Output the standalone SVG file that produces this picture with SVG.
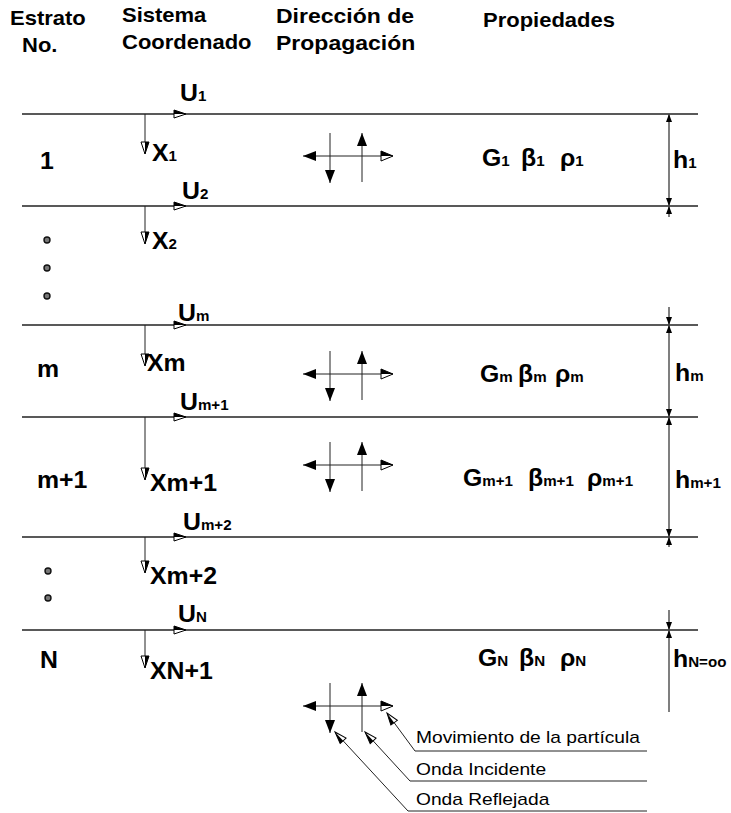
<svg xmlns="http://www.w3.org/2000/svg" xmlns:xlink="http://www.w3.org/1999/xlink" width="731" height="813" viewBox="0 0 731 813">
<style>
text{fill:#000;font-family:"Liberation Sans",Arial,sans-serif}
.h{font-weight:bold;font-size:20px}
.l{font-weight:bold;font-size:23px}
.s{font-size:14px}
.lg{font-size:16px}
.ln{stroke:#222;stroke-width:1.3;fill:none}
.dm{stroke:#555;stroke-width:1.5;fill:none}
.th{stroke:#222;stroke-width:1;fill:none}
.dot{fill:#777;stroke:#111;stroke-width:1.4}
</style>
<defs>
<g id="ahO"><polygon points="-12,-4 0,0 -12,4" fill="#fff" stroke="#000" stroke-width="1"/><polygon points="-12,-4 0,0 -12,0" fill="#000"/></g>
<g id="ahF"><polygon points="-13,-5 0,0 -13,5" fill="#000"/></g>
<g id="ahC"><polygon points="-12,-5 0,0 -12,5" fill="#fff" stroke="#000" stroke-width="1"/><polygon points="-12,-5 0,0 -12,0" fill="#000"/></g>
<g id="ahD"><polygon points="-8,-3 0,0 -8,3" fill="#000"/></g>
<g id="ahL"><polygon points="-12,-4 0,0 -12,4" fill="#fff" stroke="#000" stroke-width="1"/><polygon points="-12,-4 0,0 -12,0" fill="#000"/></g>
<g id="cross">
<line class="th" x1="303" y1="0" x2="393" y2="0"/>
<line class="th" x1="330" y1="-23" x2="330" y2="27"/>
<line class="th" x1="362" y1="26" x2="362" y2="-23"/>
<use xlink:href="#ahF" transform="translate(303,0) rotate(180)"/>
<use xlink:href="#ahC" transform="translate(393,0)"/>
<use xlink:href="#ahF" transform="translate(330,27) rotate(90)"/>
<use xlink:href="#ahF" transform="translate(362,-23) rotate(-90)"/>
</g>
</defs>

<g id="header">
<text class="h" transform="translate(10,25) scale(1.1,1)">Estrato</text>
<text class="h" transform="translate(22,52) scale(1.1,1)">No.</text>
<text class="h" transform="translate(122,22) scale(1.1,1)">Sistema</text>
<text class="h" transform="translate(122,49) scale(1.1,1)">Coordenado</text>
<text class="h" transform="translate(276,23) scale(1.15,1)">Dirección de</text>
<text class="h" transform="translate(276,50) scale(1.15,1)">Propagación</text>
<text class="h" transform="translate(483,27) scale(1.1,1)">Propiedades</text>
</g>

<g id="connectors">
<line class="ln" x1="22" y1="114" x2="698" y2="114"/>
<line class="ln" x1="22" y1="206" x2="698" y2="206"/>
<line class="ln" x1="22" y1="325" x2="698" y2="325"/>
<line class="ln" x1="22" y1="417" x2="698" y2="417"/>
<line class="ln" x1="22" y1="537" x2="698" y2="537"/>
<line class="ln" x1="22" y1="630" x2="698" y2="630"/>
<g class="th">
<line x1="145" y1="114" x2="145" y2="154"/>
<line x1="145" y1="206" x2="145" y2="244"/>
<line x1="145" y1="325" x2="145" y2="366"/>
<line x1="145" y1="417" x2="145" y2="480"/>
<line x1="145" y1="537" x2="145" y2="573"/>
<line x1="145" y1="630" x2="145" y2="668"/>
</g>
<use xlink:href="#ahO" transform="translate(186,114)"/>
<use xlink:href="#ahO" transform="translate(186,206)"/>
<use xlink:href="#ahO" transform="translate(186,325)"/>
<use xlink:href="#ahO" transform="translate(186,417)"/>
<use xlink:href="#ahO" transform="translate(186,537)"/>
<use xlink:href="#ahO" transform="translate(186,630)"/>
<use xlink:href="#ahO" transform="translate(145,154) rotate(90)"/>
<use xlink:href="#ahO" transform="translate(145,244) rotate(90)"/>
<use xlink:href="#ahO" transform="translate(145,366) rotate(90)"/>
<use xlink:href="#ahO" transform="translate(145,480) rotate(90)"/>
<use xlink:href="#ahO" transform="translate(145,573) rotate(90)"/>
<use xlink:href="#ahO" transform="translate(145,668) rotate(90)"/>
<use xlink:href="#cross" transform="translate(0,156)"/>
<use xlink:href="#cross" transform="translate(0,374)"/>
<use xlink:href="#cross" transform="translate(0,465)"/>
<use xlink:href="#cross" transform="translate(0,706)"/>
<line class="dm" x1="669" y1="114" x2="669" y2="217"/>
<line class="dm" x1="669" y1="307" x2="669" y2="547"/>
<line class="dm" x1="669" y1="610" x2="669" y2="712"/>
<use xlink:href="#ahD" transform="translate(669,114) rotate(-90)"/>
<use xlink:href="#ahD" transform="translate(669,206) rotate(90)"/>
<use xlink:href="#ahD" transform="translate(669,206) rotate(-90)"/>
<use xlink:href="#ahD" transform="translate(669,325) rotate(90)"/>
<use xlink:href="#ahD" transform="translate(669,325) rotate(-90)"/>
<use xlink:href="#ahD" transform="translate(669,417) rotate(90)"/>
<use xlink:href="#ahD" transform="translate(669,417) rotate(-90)"/>
<use xlink:href="#ahD" transform="translate(669,537) rotate(90)"/>
<use xlink:href="#ahD" transform="translate(669,537) rotate(-90)"/>
<use xlink:href="#ahD" transform="translate(669,630) rotate(90)"/>
<use xlink:href="#ahD" transform="translate(669,630) rotate(-90)"/>
<polyline class="th" points="647,751 415,751 387,713"/>
<polyline class="th" points="647,781 410,781 365,732"/>
<polyline class="th" points="647,811 408,811 335,732"/>
<use xlink:href="#ahL" transform="translate(387,713) rotate(-126.4)"/>
<use xlink:href="#ahL" transform="translate(365,732) rotate(-132.6)"/>
<use xlink:href="#ahL" transform="translate(335,732) rotate(-132.7)"/>
</g>

<g id="layer-1">
<text class="l" transform="translate(40,169) scale(1.08,1)">1</text>
<text class="l" transform="translate(180,101) scale(1.08,1)">U<tspan class="s">1</tspan></text>
<text class="l" transform="translate(152,161) scale(1.08,1)">X<tspan class="s">1</tspan></text>
<text class="l" transform="translate(482,166) scale(1.08,1)">G<tspan class="s">1</tspan></text>
<text class="l" transform="translate(521,166) scale(1.08,1)">β<tspan class="s">1</tspan></text>
<text class="l" transform="translate(560,166) scale(1.08,1)">ρ<tspan class="s">1</tspan></text>
<text class="l" transform="translate(673,168) scale(1.08,1)">h<tspan class="s">1</tspan></text>
</g>

<g id="layer-2">
<text class="l" transform="translate(182,199) scale(1.08,1)">U<tspan class="s">2</tspan></text>
<text class="l" transform="translate(152,249) scale(1.08,1)">X<tspan class="s">2</tspan></text>
<circle class="dot" cx="47" cy="240" r="3"/>
<circle class="dot" cx="47" cy="268" r="3"/>
<circle class="dot" cx="47" cy="296" r="3"/>
</g>

<g id="layer-m">
<text class="l" transform="translate(37,377) scale(1.08,1)">m</text>
<text class="l" transform="translate(178,321) scale(1.08,1)">U<tspan class="s">m</tspan></text>
<text class="l" transform="translate(147,371) scale(1.08,1)">Xm</text>
<text class="l" transform="translate(480,382) scale(1.08,1)">G<tspan class="s">m</tspan></text>
<text class="l" transform="translate(518,382) scale(1.08,1)">β<tspan class="s">m</tspan></text>
<text class="l" transform="translate(555,382) scale(1.08,1)">ρ<tspan class="s">m</tspan></text>
<text class="l" transform="translate(675,381) scale(1.08,1)">h<tspan class="s">m</tspan></text>
</g>

<g id="layer-m1">
<text class="l" transform="translate(37,488) scale(1.08,1)">m+1</text>
<text class="l" transform="translate(180,410) scale(1.08,1)">U<tspan class="s">m+1</tspan></text>
<text class="l" transform="translate(150,491) scale(1.08,1)">Xm+1</text>
<text class="l" transform="translate(463,486) scale(1.08,1)">G<tspan class="s">m+1</tspan></text>
<text class="l" transform="translate(528,486) scale(1.08,1)">β<tspan class="s">m+1</tspan></text>
<text class="l" transform="translate(587,486) scale(1.08,1)">ρ<tspan class="s">m+1</tspan></text>
<text class="l" transform="translate(675,488) scale(1.08,1)">h<tspan class="s">m+1</tspan></text>
</g>

<g id="layer-m2">
<text class="l" transform="translate(183,530) scale(1.08,1)">U<tspan class="s">m+2</tspan></text>
<text class="l" transform="translate(150,584) scale(1.08,1)">Xm+2</text>
<circle class="dot" cx="48" cy="571" r="3"/>
<circle class="dot" cx="48" cy="598" r="3"/>
</g>

<g id="layer-N">
<text class="l" transform="translate(40,668) scale(1.08,1)">N</text>
<text class="l" transform="translate(178,622) scale(1.08,1)">U<tspan class="s">N</tspan></text>
<text class="l" transform="translate(150,679) scale(1.08,1)">XN+1</text>
<text class="l" transform="translate(478,666) scale(1.08,1)">G<tspan class="s">N</tspan></text>
<text class="l" transform="translate(519,666) scale(1.08,1)">β<tspan class="s">N</tspan></text>
<text class="l" transform="translate(560,666) scale(1.08,1)">ρ<tspan class="s">N</tspan></text>
<text class="l" transform="translate(673,667) scale(1.08,1)">h<tspan class="s">N=oo</tspan></text>
</g>

<g id="legend">
<text class="lg" transform="translate(416,743) scale(1.2,1)">Movimiento de la partícula</text>
<text class="lg" transform="translate(416,775) scale(1.2,1)">Onda Incidente</text>
<text class="lg" transform="translate(416,805) scale(1.2,1)">Onda Reflejada</text>
</g>
</svg>
